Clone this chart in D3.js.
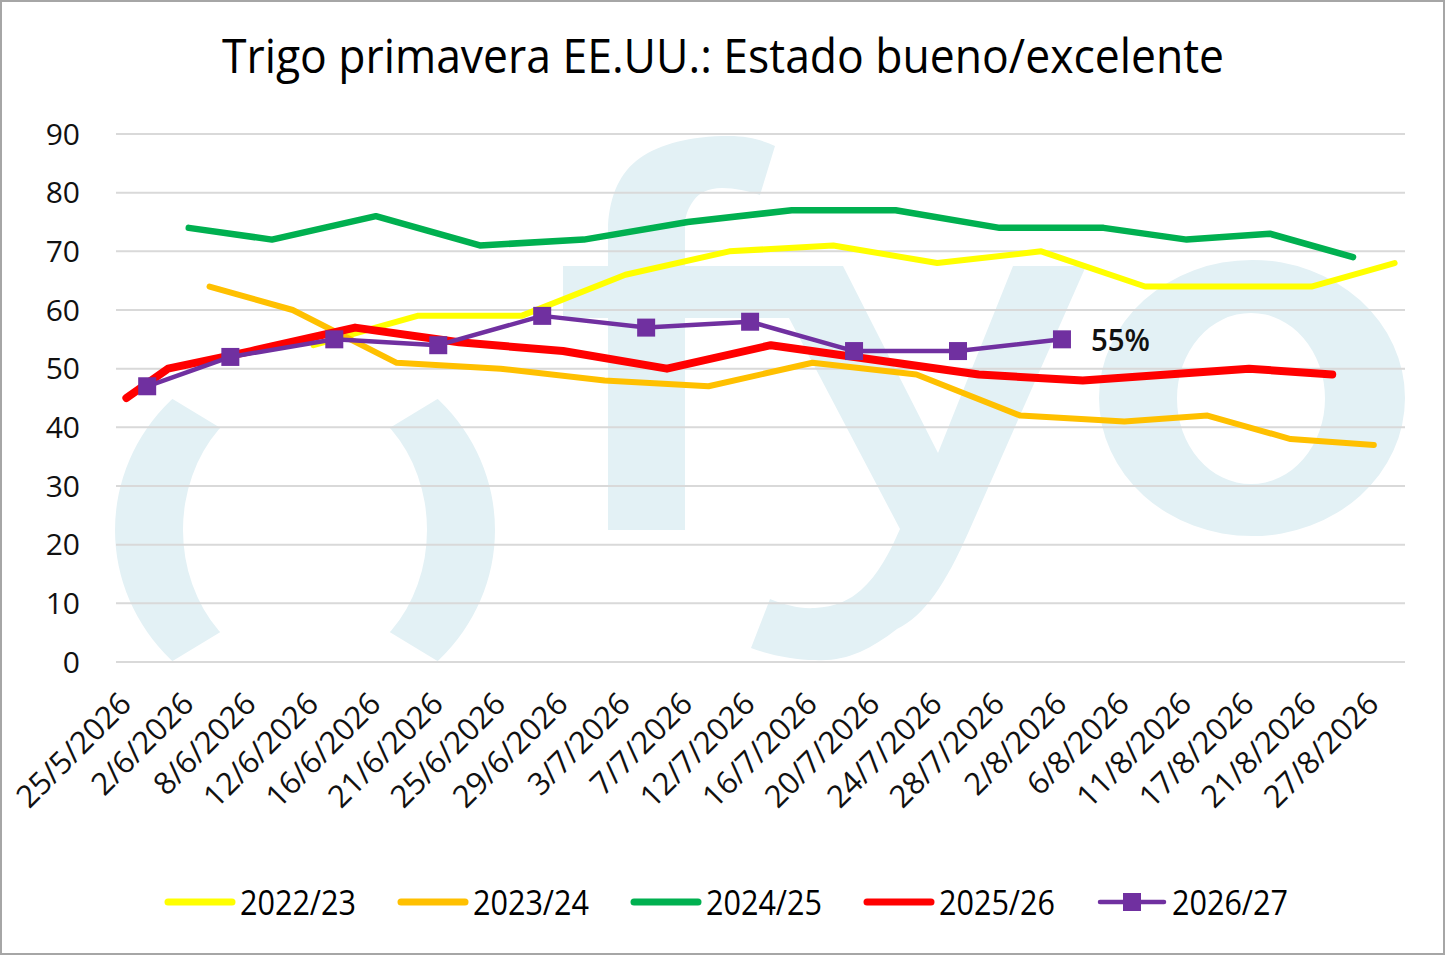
<!DOCTYPE html>
<html>
<head>
<meta charset="utf-8">
<script src="https://cdn.jsdelivr.net/npm/d3@7"></script>
<style>
  body { margin: 0; background: #fff; }
  svg { display: block; }
</style>
</head>
<body>
<div id="chart"></div>
<script>
// tick labels shown on the x axis (one every 3 categories out of 62)
var xLabels = ["25/5/2026", "2/6/2026", "8/6/2026", "12/6/2026", "16/6/2026", "21/6/2026",
  "25/6/2026", "29/6/2026", "3/7/2026", "7/7/2026", "12/7/2026", "16/7/2026", "20/7/2026",
  "24/7/2026", "28/7/2026", "2/8/2026", "6/8/2026", "11/8/2026", "17/8/2026", "21/8/2026", "27/8/2026"];
var nCategories = 62;
var labelStep = 3;
var yTicks = [0, 10, 20, 30, 40, 50, 60, 70, 80, 90];

// [category index, % good/excellent]
var s2022 = [[9, 54], [14, 59], [19, 59], [24, 66], [29, 70], [34, 71], [39, 68], [44, 70], [49, 64], [57, 64], [61, 68]];
var s2023 = [[4, 64], [8, 60], [13, 51], [18, 50], [23, 48], [28, 47], [33, 51], [38, 49], [43, 42], [48, 41], [52, 42], [56, 38], [60, 37]];
var s2024 = [[3, 74], [7, 72], [12, 76], [17, 71], [22, 72], [27, 75], [32, 77], [37, 77], [42, 74], [47, 74], [51, 72], [55, 73], [59, 69]];
var s2025 = [[0, 45], [2, 50], [6, 53], [11, 57], [16, 54.5], [21, 53], [26, 50], [31, 54], [41, 49], [46, 48], [54, 50], [58, 49]];
var s2026 = [[1, 47], [5, 52], [10, 55], [15, 54], [20, 59], [25, 57], [30, 58], [35, 53], [40, 53], [45, 55]];

var seriesNames = ["2022/23", "2023/24", "2024/25", "2025/26", "2026/27"];
var seriesData = [s2022, s2023, s2024, s2025, s2026];
var seriesColors = ["#FFFF00", "#FFC000", "#00B050", "#FF0000", "#7030A0"];
var seriesWidths = [6, 6, 6.5, 8, 4.5];

var width = 1446,
  height = 956,
  plot = { left: 116, right: 1405, top: 134, bottom: 662 };

// no condensed face installed, so narrow texts are squeezed to the original width
var narrowFont = "Open Sans, sans-serif";

var svg = d3.select("#chart")
  .append("svg")
  .attr("width", width)
  .attr("height", height);

svg.append("rect")
  .attr("x", 1).attr("y", 1)
  .attr("width", width - 3).attr("height", height - 3)
  .attr("fill", "#fff")
  .attr("stroke", "#a6a6a6")
  .attr("stroke-width", 2);

// scales
var x = d3.scaleLinear()
  .domain([-0.5, nCategories - 0.5])
  .range([plot.left, plot.right]);

var y = d3.scaleLinear()
  .domain([0, 90])
  .range([plot.bottom, plot.top]);

// watermark logo "( ) fyo" in light blue
var wm = svg.append("g").attr("fill", "#e3f1f5");

function ellipsePath(cx, cy, rx, ry) {
  return "M" + (cx - rx) + "," + cy +
    "a" + rx + "," + ry + " 0 1,0 " + (2 * rx) + ",0" +
    "a" + rx + "," + ry + " 0 1,0 " + (-2 * rx) + ",0Z";
}

var defs = svg.append("defs");
defs.append("clipPath").attr("id", "clipL")
  .append("path").attr("d", "M90,349 L260,452 L260,608 L90,711 Z");
defs.append("clipPath").attr("id", "clipR")
  .append("path").attr("d", "M520,349 L350,452 L350,608 L520,711 Z");

["clipL", "clipR"].forEach(function(id) {
  wm.append("path")
    .attr("fill-rule", "evenodd")
    .attr("clip-path", "url(#" + id + ")")
    .attr("d", ellipsePath(305, 530, 190, 183) + ellipsePath(305, 530, 122, 142));
});

// f + y ligature
wm.append("path")
  .attr("d", "M843,266 L938,453 L1013,266 L1086,266 L969,531" +
    "C945,585 925,615 897,629 C870,650 845,662 815,660 C795,660 770,655 751,648" +
    "L770,599 C785,605 800,609 815,608 C835,607 850,600 861,590 C878,575 890,552 900,529" +
    "L789,318 L685,318 L685,530 L608,530 L608,318 L563,318 L563,266 L608,266 L608,225" +
    "C610,195 620,172 640,158 C660,144 690,136 729,136 C748,136 762,140 775,146" +
    "L760,195 C748,191 735,188 722,188 C708,188 699,193 694,200 C688,208 685,216 685,225 L685,266 Z");

// o
wm.append("path")
  .attr("fill-rule", "evenodd")
  .attr("d", ellipsePath(1252, 398, 153, 138) + ellipsePath(1251, 398.5, 74, 85.5));

// gridlines
svg.append("g")
  .selectAll("line")
  .data(yTicks)
  .enter()
  .append("line")
  .attr("x1", plot.left)
  .attr("x2", plot.right)
  .attr("y1", function(d) { return y(d); })
  .attr("y2", function(d) { return y(d); })
  .attr("stroke", "#d9d9d9")
  .attr("stroke-width", 2);

// y labels
svg.append("g")
  .selectAll("text")
  .data(yTicks)
  .enter()
  .append("text")
  .attr("x", 80)
  .attr("y", function(d) { return y(d); })
  .attr("dy", "0.36em")
  .attr("text-anchor", "end")
  .attr("font-family", "Open Sans, sans-serif")
  .attr("font-size", "30px")
  .attr("fill", "#111")
  .text(function(d) { return d; });

// x labels, rotated
svg.append("g")
  .selectAll("text")
  .data(xLabels)
  .enter()
  .append("text")
  .attr("transform", function(d, i) {
    return "translate(" + (x(i * labelStep) - 1) + ",698) rotate(-45)";
  })
  .attr("dy", "0.35em")
  .attr("text-anchor", "end")
  .attr("font-family", "Open Sans, sans-serif")
  .attr("font-size", "31px")
  .attr("fill", "#111")
  .text(function(d) { return d; });

// series lines
var line = d3.line()
  .x(function(d) { return x(d[0]); })
  .y(function(d) { return y(d[1]); });

svg.append("g")
  .selectAll("path")
  .data(seriesData)
  .enter()
  .append("path")
  .attr("d", line)
  .attr("fill", "none")
  .attr("stroke", function(d, i) { return seriesColors[i]; })
  .attr("stroke-width", function(d, i) { return seriesWidths[i]; })
  .attr("stroke-linejoin", "round")
  .attr("stroke-linecap", "round");

// markers for current season
var markerSize = 18;
svg.append("g")
  .selectAll("rect")
  .data(s2026)
  .enter()
  .append("rect")
  .attr("x", function(d) { return x(d[0]) - markerSize / 2; })
  .attr("y", function(d) { return y(d[1]) - markerSize / 2; })
  .attr("width", markerSize)
  .attr("height", markerSize)
  .attr("fill", "#7030A0");

// label of the last value
var last = s2026[s2026.length - 1];
svg.append("text")
  .attr("x", x(last[0]) + 29)
  .attr("y", y(last[1]))
  .attr("dy", "0.37em")
  .attr("font-family", narrowFont)
  .attr("font-weight", "600")
  .attr("font-size", "31px")
  .attr("textLength", 59)
  .attr("lengthAdjust", "spacingAndGlyphs")
  .attr("fill", "#111")
  .text(last[1] + "%");

// title
svg.append("text")
  .attr("x", width / 2)
  .attr("y", 73)
  .attr("text-anchor", "middle")
  .attr("font-family", narrowFont)
  .attr("font-size", "48px")
  .attr("textLength", 1002)
  .attr("lengthAdjust", "spacingAndGlyphs")
  .attr("fill", "#000")
  .text("Trigo primavera EE.UU.: Estado bueno/excelente");

// legend
var legend = svg.append("g")
  .selectAll("g")
  .data(seriesNames)
  .enter()
  .append("g")
  .attr("transform", function(d, i) { return "translate(" + (165 + 233 * i) + ",902)"; });

legend.append("line")
  .attr("x1", 3).attr("x2", 67)
  .attr("stroke", function(d, i) { return seriesColors[i]; })
  .attr("stroke-width", function(d, i) { return i == 4 ? 4.5 : 7; })
  .attr("stroke-linecap", "round");

legend.filter(function(d, i) { return i == 4; })
  .append("rect")
  .attr("x", 35 - markerSize / 2)
  .attr("y", -markerSize / 2)
  .attr("width", markerSize)
  .attr("height", markerSize)
  .attr("fill", "#7030A0");

legend.append("text")
  .attr("x", 75)
  .attr("y", 13)
  .attr("font-family", narrowFont)
  .attr("font-size", "35px")
  .attr("textLength", 116)
  .attr("lengthAdjust", "spacingAndGlyphs")
  .attr("fill", "#000")
  .text(function(d) { return d; });
</script>
</body>
</html>
